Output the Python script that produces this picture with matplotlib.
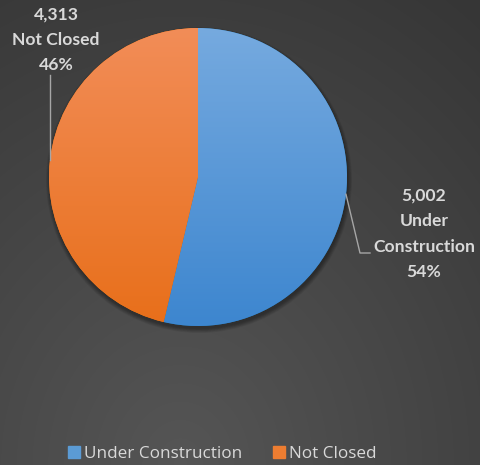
import numpy as np
import matplotlib.pyplot as plt
from matplotlib.patches import Circle
from matplotlib.colors import LinearSegmentedColormap

# Data
categories = ['Under Construction', 'Not Closed']
counts = [5002, 4313]
top_colors = ['#76aadf', '#f28d58']
bottom_colors = ['#3d86cf', '#e86f1a']
legend_colors = ['#5b9bd5', '#ed7d31']
text_color = '#d9d9d9'

W, H = 481, 465
fig = plt.figure(figsize=(W / 100, H / 100), dpi=100)
ax = fig.add_axes([0, 0, 1, 1])
ax.set_xlim(0, W)
ax.set_ylim(0, H)
ax.axis('off')

# background gradient (lighter at the top)
yy, xx = np.mgrid[0:H, 0:W]
r = np.sqrt(((xx - 180) / 480) ** 2 + ((yy - 0) / 560) ** 2)
bg = 0.335 - 0.12 * np.clip(r, 0, 1)
ax.imshow(np.dstack([bg, bg, bg]), extent=(0, W, H, 0), zorder=0)
ax.set_ylim(0, H)

# pie geometry
cx, cy, R = 198, 288, 149

# soft shadow
for i in range(8):
    ax.add_patch(Circle((cx + 1, cy - 3), R + 4 - i * 0.6, color='black',
                        alpha=0.05, lw=0, zorder=1))

wedges, _ = ax.pie(counts, center=(cx, cy), radius=R, startangle=90,
                   counterclock=False, frame=True,
                   wedgeprops=dict(linewidth=0))
ax.set_xlim(0, W)
ax.set_ylim(0, H)
ax.set_aspect('equal')
ax.axis('off')

for w, c1, c2 in zip(wedges, top_colors, bottom_colors):
    w.set_zorder(2)
    cmap = LinearSegmentedColormap.from_list('g', [c2, c1])
    grad = np.linspace(0, 1, 256).reshape(-1, 1)
    im = ax.imshow(grad, cmap=cmap, origin='lower', aspect='auto',
                   extent=(cx - R, cx + R, cy - R, cy + R), zorder=3)
    im.set_clip_path(w)
ax.set_xlim(0, W)
ax.set_ylim(0, H)

total = sum(counts)
font = dict(family=['Lato', 'DejaVu Sans'], color=text_color)

# labels with leader lines
start = 90.0
mids = []
for c in counts:
    ang = start - 360 * c / total / 2
    mids.append(np.deg2rad(ang))
    start -= 360 * c / total

# Under Construction
a = mids[0]
px, py = cx + R * np.cos(a), cy + R * np.sin(a)
ax.plot([px, 360, 370], [py, H - 253, H - 253], color='#a6a6a6', lw=1, zorder=4)
ax.text(424, H - 234,
        f"{counts[0]:,}\nUnder\nConstruction\n{round(100 * counts[0] / total)}%",
        ha='center', va='center', fontsize=12.6, fontweight='bold',
        linespacing=1.72, zorder=5, **font)

# Not Closed
a = mids[1]
px, py = cx + R * np.cos(a), cy + R * np.sin(a)
ax.plot([px, px], [py, H - 75], color='#a6a6a6', lw=1, zorder=4)
ax.text(56, H - 40,
        f"{counts[1]:,}\nNot Closed\n{round(100 * counts[1] / total)}%",
        ha='center', va='center', fontsize=12.6, fontweight='bold',
        linespacing=1.72, zorder=5, **font)

# legend
leg = fig.legend([plt.Rectangle((0, 0), 1, 1, color=c) for c in legend_colors],
                 categories, loc='lower center', bbox_to_anchor=(0.462, -0.026),
                 ncol=2, frameon=False, handlelength=0.7, handleheight=0.7,
                 handletextpad=0.25, columnspacing=1.75,
                 prop=dict(family=['Open Sans', 'DejaVu Sans'], size=12.3))
for t in leg.get_texts():
    t.set_color(text_color)

fig.savefig('out.png', dpi=100)
